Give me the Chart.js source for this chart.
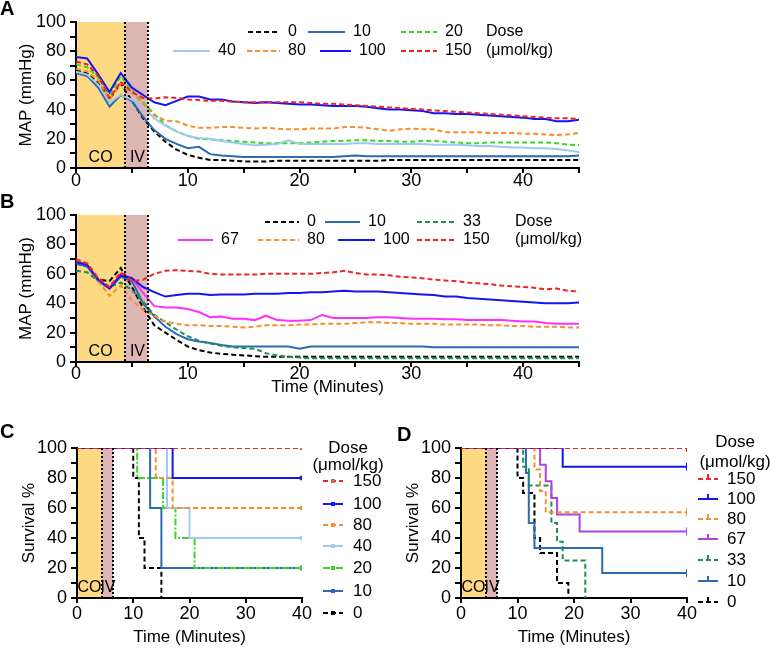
<!DOCTYPE html>
<html lang="en">
<head>
<meta charset="UTF-8">
<title>MAP and survival by dose</title>
<script src="https://cdn.jsdelivr.net/npm/chart.js"></script>
<style>
  body { margin: 0; background: #fff; }
  #wrap { position: relative; width: 770px; height: 648px; font-family: "Liberation Sans", Arial, sans-serif; }
  #wrap canvas { position: absolute; }
  .tag { position: absolute; font-weight: bold; font-size: 20px; line-height: 18px; }
</style>
</head>
<body>
<div id="wrap">
  <canvas id="chartA" width="770" height="195" style="left:0;top:0"></canvas>
  <canvas id="chartB" width="770" height="205" style="left:0;top:195px"></canvas>
  <canvas id="chartC" width="390" height="228" style="left:0;top:420px"></canvas>
  <canvas id="chartD" width="380" height="228" style="left:390px;top:420px"></canvas>
  <div class="tag" style="left:0;top:-1px">A</div>
  <div class="tag" style="left:0;top:192px">B</div>
  <div class="tag" style="left:0;top:422px">C</div>
  <div class="tag" style="left:397px;top:425px">D</div>
</div>

<script>
// minutes for the MAP traces (A and B)
const minutes = [0, 1, 2, 3, 4, 5, 6, 7, 8, 9, 10, 11, 12, 13, 14, 15, 16, 17, 18, 19, 20, 21, 22,
  23, 24, 25, 26, 27, 28, 29, 30, 31, 32, 33, 34, 35, 36, 37, 38, 39, 40, 41, 42, 43, 44, 45];

// panel A, MAP (mmHg) by dose
const mapA0 = [67, 65, 58, 47, 58, 46, 34, 25, 18, 12.5, 9, 7, 5.5, 5.5, 5, 4.5, 4.5, 4.5, 5, 5,
  5, 5, 5, 5, 5, 5, 5, 5, 5.5, 5.5, 5.5, 5.5, 5.5, 5.5, 5.5, 5.5, 5.5, 5.5, 5.5, 5.5, 5.5, 5.5, 5.5, 5.5, 5.5, 5.5];
const mapA10 = [65, 63, 55, 42, 50, 46, 35, 26, 20, 16.5, 13.5, 14.5, 9.5, 8.5, 8, 7.5, 7.5, 7.5, 7.5, 7.5,
  7.5, 7.5, 7.5, 7.5, 8, 8.5, 8, 8, 8, 8, 8, 8, 8, 8, 8, 8, 8, 8, 8, 8, 8, 8, 8, 8, 8, 8.5];
const mapA20 = [71, 69, 62, 50, 63, 53, 45, 37, 29.5, 25, 22, 20, 19.5, 19, 18.5, 18, 17.5, 17, 17, 17,
  17, 17.5, 18, 18.5, 18.5, 19, 19, 18.5, 18.5, 18, 18, 18.5, 18.5, 18, 17.5, 17, 17, 17.5, 17.5, 17.5,
  17.5, 17.5, 17.5, 17, 16, 15.5];
const mapA40 = [66, 64, 57, 45, 50, 47, 42, 34, 29, 25, 22, 20.5, 20, 18.5, 17.5, 16.5, 15.5, 16, 16.5, 19,
  16.5, 16.5, 16.5, 16.5, 16.5, 17, 17, 16.5, 16.5, 16.5, 16.5, 16.5, 16, 16, 16, 15.5, 15, 15, 14.5, 14,
  14, 13.5, 13.5, 13, 12, 11];
const mapA80 = [68, 66, 60, 47, 58, 52, 44, 36, 32.5, 32, 29, 27.5, 27.5, 28, 28, 27.5, 27, 27.5, 27, 26.5,
  26.5, 27, 27, 27, 28, 28, 27.5, 26.5, 25.5, 26.5, 27, 26.5, 26.5, 24.5, 24.5, 24.5, 24.5, 24, 24, 24,
  23.5, 23.5, 23, 22.5, 23, 24];
const mapA100 = [76, 75, 64, 52, 65, 55, 50, 45, 43, 46, 49, 49, 47, 47, 45.5, 45, 44.5, 45, 44.5, 44,
  43.5, 43.5, 43, 42.5, 42.5, 42.5, 42, 41, 40, 40, 39.5, 39, 37.5, 37.5, 37, 37, 36.5, 36, 35.5, 35,
  34.5, 33.5, 33.5, 32, 32, 33];
const mapA150 = [73, 71, 63, 48, 59, 52, 48, 47.5, 48.5, 48, 47, 46.5, 46, 46, 45.5, 45, 45, 45, 45, 45,
  45, 44.5, 44, 44, 43.5, 43, 42.5, 42, 41.5, 41, 40.5, 40, 39.5, 39, 38.5, 38, 37.5, 37, 36.5, 36,
  35.5, 35, 34.5, 34, 34, 33.5];

// panel B, MAP (mmHg) by dose
const mapB0 = [67, 65, 56, 55, 64, 51, 37, 25, 20, 15, 10.5, 8, 6.5, 5.5, 5, 4.5, 4, 3.5, 3.5, 3.5,
  3.5, 3.5, 3.5, 3.5, 3.5, 3.5, 3.5, 3.5, 3.5, 3.5, 3.5, 3.5, 3.5, 3.5, 3.5, 3.5, 3.5, 3.5, 3.5, 3.5,
  3.5, 3.5, 3.5, 3.5, 3.5, 3.5];
const mapB10 = [67, 65, 55, 50, 58, 55, 40, 31, 24, 19, 15.5, 14, 13, 11.5, 10.5, 10.5, 10.5, 10.5, 10.5, 10.5,
  9, 10.5, 10.5, 10.5, 10.5, 10.5, 10.5, 10.5, 10.5, 10.5, 10.5, 10.5, 10, 10, 10, 10, 10, 10, 10, 10,
  10, 10, 10, 10, 10, 10];
const mapB33 = [62, 61, 55, 51, 54, 49, 41, 32, 27, 22, 17.5, 14.5, 12.5, 11, 10, 9.5, 9, 6, 4.5, 3.5,
  3, 2.5, 2.5, 2.5, 2.5, 2.5, 2.5, 2.5, 2.5, 2.5, 2.5, 2.5, 2.5, 2.5, 2.5, 2.5, 2.5, 2.5, 2.5, 2.5,
  2.5, 2.5, 2.5, 2.5, 2.5, 2.5];
const mapB67 = [69, 66, 56, 50, 60, 57, 47, 38, 37, 37, 36, 34, 30.5, 31, 29.5, 29.5, 28.5, 31.5, 28.5, 28,
  28, 28.5, 32, 30, 30, 30, 30, 30.5, 30.5, 30, 29.5, 29.5, 29.5, 29, 29, 28.5, 28.5, 28.5, 28.5, 28,
  27.5, 27.5, 26.5, 26, 26, 26];
const mapB80 = [69, 67, 55, 45, 52, 42, 35.5, 31.5, 27.5, 26, 25, 25, 24.5, 24.5, 24, 23.5, 24, 25, 25, 25,
  25.5, 25.5, 26, 26, 26, 26.5, 27, 27, 26.5, 26.5, 26, 26, 26, 25.5, 25.5, 25.5, 25.5, 25, 25, 24.5,
  24.5, 24, 24, 24, 23.5, 23.5];
const mapB100 = [68, 66, 56, 50, 59, 57, 51, 47.5, 44.5, 45.5, 46.5, 46.5, 45.5, 46, 46, 46, 46.5, 46.5, 46.5, 47,
  47, 47.5, 47.5, 48, 48.5, 48, 48, 48, 47.5, 47, 46.5, 46, 45.5, 44.5, 44.5, 43.5, 43, 42.5, 42, 41.5,
  41, 40.5, 40, 40, 40, 40.5];
const mapB150 = [70, 67, 57, 51, 61, 55, 56, 60, 62, 62.5, 62, 61.5, 60, 59.5, 59.5, 59.5, 59.5, 60, 60, 60,
  60, 60, 60.5, 61, 62, 60.5, 59.5, 59.5, 59, 58, 57.5, 57, 56, 55.5, 55, 54, 53.5, 53, 52, 51.5,
  51, 50.5, 49.5, 50, 48.5, 48];

// panel C, survival % (event times in minutes)
const cT150 = [0, 40],                      cS150 = [100, 100];
const cT100 = [0, 17, 40],                  cS100 = [100, 80, 80];
const cT80  = [0, 14, 17, 40],              cS80  = [100, 80, 60, 60];
const cT40  = [0, 16, 20, 40],              cS40  = [100, 60, 40, 40];
const cT20  = [0, 10.7, 15.3, 17.5, 20.9, 40], cS20 = [100, 80, 60, 40, 20, 20];
const cT10  = [0, 13, 15, 40],              cS10  = [100, 60, 20, 20];
const cT0   = [0, 10, 11, 12, 15],          cS0   = [100, 80, 40, 20, 0];

// panel D, survival %
const dT150 = [0, 40],                      dS150 = [100, 100];
const dT100 = [0, 18, 40],                  dS100 = [100, 87.5, 87.5];
const dT80  = [0, 13, 14, 15, 40],          dS80  = [100, 85.7, 71.4, 57.1, 57.1];
const dT67  = [0, 14, 15, 16, 17, 21, 40],  dS67  = [100, 88.9, 77.8, 66.7, 55.6, 44.4, 44.4];
const dT33  = [0, 11, 12, 16, 17, 18, 22],  dS33  = [100, 87.5, 75, 50, 37.5, 25, 0];
const dT10  = [0, 11.5, 12, 13, 25, 40],    dS10  = [100, 83.3, 50, 33.3, 16.7, 16.7];
const dT0   = [0, 10, 11, 13, 14, 17, 19],  dS0   = [100, 80, 70, 40, 30, 10, 0];

// CO exposure and IV treatment windows (minutes)
const coEnd = 4.4;
const ivEnd = 6.4;

const FONT = '"Liberation Sans", Arial, sans-serif';
Chart.defaults.font.family = FONT;
Chart.defaults.color = '#000';

const DASH = [5, 3];
const C_BLACK = '#000000', C_10 = '#2c6bb2', C_20 = '#3ad62a', C_33 = '#1f8f52', C_40 = '#9ec9f0',
      C_67 = '#ff30ff', C_67D = '#b042e0', C_80 = '#f7902c', C_100 = '#1414f5', C_150 = '#f02424';

function lineSet(label, vals, color, dash) {
  return {
    label: label,
    data: minutes.map((t, i) => ({x: t, y: vals[i]})),
    borderColor: color, backgroundColor: color,
    borderWidth: 2, borderDash: dash || [],
    pointRadius: 0, tension: 0, fill: false
  };
}

function stepSet(label, times, vals, color, dash, marker, markerColor) {
  const last = times.length - 1;
  return {
    label: label,
    data: times.map((t, i) => ({x: t, y: vals[i]})),
    borderColor: color, backgroundColor: markerColor || color,
    borderWidth: 2, borderDash: dash || [],
    stepped: true, fill: false,
    pointStyle: marker === 'tick' ? 'line' : 'rect',
    rotation: marker === 'tick' ? 90 : 0,
    pointBorderColor: markerColor || color,
    pointBorderWidth: marker === 'tick' ? 2 : 1,
    pointRadius: times.map((t, i) => (i === last && vals[i] > 0) ? (marker === 'tick' ? 4 : 2.5) : 0),
    legendMarker: marker
  };
}

// shaded CO / IV windows + labels
const bandPlugin = {
  id: 'bands',
  beforeDatasetsDraw(chart, args, opts) {
    const {ctx, chartArea: a, scales: {x}} = chart;
    const x0 = x.getPixelForValue(0) + 1;
    const x1 = x.getPixelForValue(coEnd);
    const x2 = x.getPixelForValue(ivEnd);
    ctx.save();
    ctx.fillStyle = '#fcd982';
    ctx.fillRect(x0, a.top, x1 - x0, a.bottom - a.top - 1);
    ctx.fillStyle = '#ddb5b3';
    ctx.fillRect(x1, a.top, x2 - x1, a.bottom - a.top - 1);
    ctx.fillStyle = '#000';
    ctx.font = opts.fontSize + 'px ' + FONT;
    ctx.textAlign = 'center';
    ctx.textBaseline = 'bottom';
    ctx.fillText('CO', x.getPixelForValue(2.2), a.bottom - 2);
    ctx.fillText('IV', x.getPixelForValue(5.5), a.bottom - 2);
    ctx.restore();
  },
  afterDatasetsDraw(chart) {
    const {ctx, chartArea: a, scales: {x}} = chart;
    ctx.save();
    ctx.strokeStyle = '#000';
    ctx.lineWidth = 2;
    ctx.setLineDash([2, 2]);
    [coEnd, ivEnd].forEach(v => {
      const px = Math.round(x.getPixelForValue(v));
      ctx.beginPath();
      ctx.moveTo(px, a.top);
      ctx.lineTo(px, a.bottom);
      ctx.stroke();
    });
    ctx.restore();
  }
};

// hand placed dose legend, like the GraphPad layout
const legendPlugin = {
  id: 'doseLegend',
  afterDraw(chart, args, opts) {
    const ctx = chart.ctx;
    ctx.save();
    ctx.font = opts.fontSize + 'px ' + FONT;
    ctx.textBaseline = 'middle';
    opts.items.forEach(it => {
      const ds = chart.data.datasets[it.ds];
      ctx.strokeStyle = ds.borderColor;
      ctx.lineWidth = ds.borderWidth;
      ctx.setLineDash(ds.borderDash || []);
      ctx.beginPath();
      ctx.moveTo(it.x, it.y);
      ctx.lineTo(it.x + it.w, it.y);
      ctx.stroke();
      ctx.setLineDash([]);
      const mx = it.x + it.w / 2;
      if (ds.legendMarker === 'rect') {
        ctx.fillStyle = ds.backgroundColor;
        ctx.fillRect(mx - 2, it.y - 2, 4, 4);
      } else if (ds.legendMarker === 'tick') {
        ctx.beginPath();
        ctx.moveTo(mx, it.y);
        ctx.lineTo(mx, it.y - 5);
        ctx.stroke();
      }
      ctx.fillStyle = '#000';
      ctx.textAlign = 'left';
      ctx.fillText(ds.label, it.x + it.w + (opts.gap || 8), it.y);
    });
    ctx.textAlign = opts.headerAlign;
    opts.header.forEach(h => ctx.fillText(h.text, h.x, h.y));
    ctx.restore();
  }
};

function yAxis(title, width, titlePad) {
  return {
    type: 'linear', min: 0, max: 100,
    afterFit: s => { s.width = width; },
    ticks: { stepSize: 10, autoSkip: false, padding: 4, font: {size: 18},
             callback: v => v % 20 === 0 ? v : '' },
    grid: { drawOnChartArea: false, color: '#000', lineWidth: 2, tickLength: 6 },
    border: { color: '#000', width: 2 },
    title: { display: true, text: title, font: {size: 17}, padding: {top: titlePad, bottom: 0} }
  };
}

function xAxis(max, step, labelEvery, height, showTitle, tickPad, titlePad) {
  return {
    type: 'linear', min: 0, max: max,
    afterFit: s => { s.height = height; },
    ticks: { stepSize: step, autoSkip: false, maxRotation: 0, padding: tickPad, font: {size: 18},
             callback: v => v % labelEvery === 0 ? v : '' },
    grid: { drawOnChartArea: false, color: '#000', lineWidth: 2, tickLength: 5 },
    border: { color: '#000', width: 2 },
    title: { display: showTitle, text: 'Time (Minutes)', font: {size: 17}, padding: {top: 0, bottom: titlePad} }
  };
}

function baseOptions(pad, yTitle, yWidth, yTitlePad, xMax, xStep, xLabelEvery, xHeight, xTitle, xTickPad, xTitlePad, legend, bandFont) {
  return {
    responsive: false,
    animation: false,
    layout: { padding: pad },
    scales: {
      x: xAxis(xMax, xStep, xLabelEvery, xHeight, xTitle, xTickPad, xTitlePad),
      y: yAxis(yTitle, yWidth, yTitlePad)
    },
    plugins: {
      legend: { display: false },
      tooltip: { enabled: false },
      bands: { fontSize: bandFont },
      doseLegend: legend
    }
  };
}

// ---- panel A
new Chart(document.getElementById('chartA'), {
  type: 'line',
  data: {
    datasets: [
      lineSet('150', mapA150, C_150, DASH),
      lineSet('100', mapA100, C_100),
      lineSet('80', mapA80, C_80, DASH),
      lineSet('40', mapA40, C_40),
      lineSet('20', mapA20, C_20, DASH),
      lineSet('10', mapA10, C_10),
      lineSet('0', mapA0, C_BLACK, DASH)
    ]
  },
  options: baseOptions({left: 0, top: 22, right: 191, bottom: 0}, 'MAP (mmHg)', 76, 16,
    45, 5, 10, 27, false, -3, 0, {
      fontSize: 16, headerAlign: 'left',
      items: [
        {ds: 6, x: 248, y: 32, w: 32}, {ds: 5, x: 308, y: 32, w: 37}, {ds: 4, x: 401, y: 32, w: 36},
        {ds: 3, x: 173, y: 51, w: 37}, {ds: 2, x: 247, y: 51, w: 33}, {ds: 1, x: 320, y: 51, w: 31},
        {ds: 0, x: 401, y: 51, w: 36}
      ],
      header: [{text: 'Dose', x: 486, y: 32}, {text: '(μmol/kg)', x: 486, y: 51}]
    }, 16),
  plugins: [bandPlugin, legendPlugin]
});

// ---- panel B
new Chart(document.getElementById('chartB'), {
  type: 'line',
  data: {
    datasets: [
      lineSet('150', mapB150, C_150, DASH),
      lineSet('100', mapB100, C_100),
      lineSet('80', mapB80, C_80, DASH),
      lineSet('67', mapB67, C_67),
      lineSet('33', mapB33, C_33, DASH),
      lineSet('10', mapB10, C_10),
      lineSet('0', mapB0, C_BLACK, DASH)
    ]
  },
  options: baseOptions({left: 0, top: 20, right: 191, bottom: 0}, 'MAP (mmHg)', 76, 16,
    45, 5, 10, 38, true, -4, 2, {
      fontSize: 16, headerAlign: 'left',
      items: [
        {ds: 6, x: 265, y: 27, w: 34}, {ds: 5, x: 325, y: 27, w: 35}, {ds: 4, x: 417, y: 27, w: 38},
        {ds: 3, x: 178, y: 45, w: 35}, {ds: 2, x: 258, y: 45, w: 41}, {ds: 1, x: 338, y: 45, w: 37},
        {ds: 0, x: 417, y: 45, w: 38}
      ],
      header: [{text: 'Dose', x: 515, y: 27}, {text: '(μmol/kg)', x: 515, y: 45}]
    }, 16),
  plugins: [bandPlugin, legendPlugin]
});

// ---- panel C
new Chart(document.getElementById('chartC'), {
  type: 'line',
  data: {
    datasets: [
      stepSet('150', cT150, cS150, C_150, DASH, 'rect', '#b07a4a'),
      stepSet('100', cT100, cS100, C_100, [], 'rect'),
      stepSet('80', cT80, cS80, C_80, DASH, 'rect'),
      stepSet('40', cT40, cS40, C_40, [], 'rect'),
      stepSet('20', cT20, cS20, C_20, [7, 2, 2, 2], 'rect'),
      stepSet('10', cT10, cS10, C_10, [], 'rect'),
      stepSet('0', cT0, cS0, C_BLACK, DASH, 'rect')
    ]
  },
  options: baseOptions({left: 0, top: 28, right: 88, bottom: 0}, 'Survival %', 77, 19,
    40, 10, 10, 50, true, 0, 0, {
      fontSize: 17, headerAlign: 'center', gap: 10,
      items: [
        {ds: 0, x: 323, y: 61, w: 20}, {ds: 1, x: 323, y: 84, w: 20}, {ds: 2, x: 323, y: 105, w: 20},
        {ds: 3, x: 323, y: 126, w: 20}, {ds: 4, x: 323, y: 148, w: 20}, {ds: 5, x: 323, y: 171, w: 20},
        {ds: 6, x: 323, y: 193, w: 20}
      ],
      header: [{text: 'Dose', x: 348, y: 28}, {text: '(μmol/kg)', x: 348, y: 45}]
    }, 16),
  plugins: [bandPlugin, legendPlugin]
});

// ---- panel D
new Chart(document.getElementById('chartD'), {
  type: 'line',
  data: {
    datasets: [
      stepSet('150', dT150, dS150, C_150, DASH, 'tick'),
      stepSet('100', dT100, dS100, C_100, [], 'tick'),
      stepSet('80', dT80, dS80, C_80, DASH, 'tick'),
      stepSet('67', dT67, dS67, C_67D, [], 'tick'),
      stepSet('33', dT33, dS33, C_33, DASH, 'tick'),
      stepSet('10', dT10, dS10, C_10, [], 'tick'),
      stepSet('0', dT0, dS0, C_BLACK, DASH, 'tick')
    ]
  },
  options: baseOptions({left: 0, top: 28, right: 83, bottom: 0}, 'Survival %', 71, 13,
    40, 10, 10, 50, true, 0, 0, {
      fontSize: 17, headerAlign: 'center', gap: 9,
      items: [
        {ds: 0, x: 308, y: 59, w: 20}, {ds: 1, x: 308, y: 79, w: 20}, {ds: 2, x: 308, y: 99, w: 20},
        {ds: 3, x: 308, y: 119, w: 20}, {ds: 4, x: 308, y: 140, w: 20}, {ds: 5, x: 308, y: 161, w: 20},
        {ds: 6, x: 308, y: 182, w: 20}
      ],
      header: [{text: 'Dose', x: 345, y: 22}, {text: '(μmol/kg)', x: 345, y: 42}]
    }, 16),
  plugins: [bandPlugin, legendPlugin]
});
</script>
</body>
</html>
